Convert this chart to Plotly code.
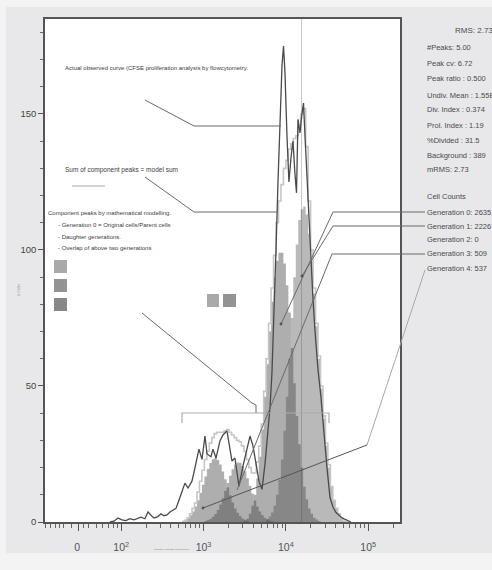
import plotly.graph_objects as go

# ---------------- data ----------------
# modelled histogram channel grid (log10 of CFSE intensity)
model_log_channel = [
    2.74, 2.77, 2.80, 2.83, 2.86, 2.89, 2.92, 2.95, 2.98, 3.01,
    3.04, 3.07, 3.10, 3.13, 3.16, 3.19, 3.22, 3.25, 3.28, 3.31,
    3.34, 3.37, 3.40, 3.43, 3.46, 3.49, 3.52, 3.55, 3.58, 3.61,
    3.64, 3.67, 3.70, 3.73, 3.76, 3.79, 3.82, 3.85, 3.88, 3.91,
    3.94, 3.97, 4.00, 4.03, 4.06, 4.09, 4.12, 4.15, 4.18, 4.21,
    4.24, 4.27, 4.30, 4.33, 4.36, 4.39, 4.42, 4.45, 4.48, 4.51,
    4.54, 4.57, 4.60, 4.63, 4.66, 4.69, 4.72, 4.75,
]

gen4_counts = [
    0.5, 0.9, 1.6, 2.5, 3.9, 5.7, 8.0, 10.7, 13.7, 16.7,
    19.5, 21.7, 23.1, 23.5, 22.8, 21.1, 18.6, 15.7, 12.7, 9.8,
    7.2, 5.0, 3.4, 2.2, 1.3, 0.8, 0.4, 0, 0, 0,
    0, 0, 0, 0, 0, 0, 0, 0, 0, 0,
    0, 0, 0, 0, 0, 0, 0, 0, 0, 0,
    0, 0, 0, 0, 0, 0, 0, 0, 0, 0,
    0, 0, 0, 0, 0, 0, 0, 0,
]
gen3_counts = [
    0, 0, 0, 0, 0, 0, 0, 0, 0, 0.4,
    0.7, 1.1, 1.9, 2.9, 4.4, 6.4, 8.7, 11.4, 14.3, 17.0,
    19.4, 21.1, 21.9, 21.8, 20.6, 18.7, 16.1, 13.3, 10.5, 7.9,
    5.7, 3.9, 2.6, 1.6, 1.0, 0.5, 0.3, 0, 0, 0,
    0, 0, 0, 0, 0, 0, 0, 0, 0, 0,
    0, 0, 0, 0, 0, 0, 0, 0, 0, 0,
    0, 0, 0, 0, 0, 0, 0, 0,
]
gen1_counts = [
    0, 0, 0, 0, 0, 0, 0, 0, 0, 0,
    0, 0, 0, 0, 0, 0, 0, 0, 0, 0,
    0, 0, 0, 0, 0, 0.5, 1.2, 3, 6, 10,
    16, 24, 34, 46, 58, 70, 81, 90, 96, 99,
    99, 95, 87, 77, 64, 51, 39, 28.6, 20, 13,
    8.4, 5, 3, 1.6, 0.9, 0.4, 0, 0, 0, 0,
    0, 0, 0, 0, 0, 0, 0, 0,
]
gen0_counts = [
    0, 0, 0, 0, 0, 0, 0, 0, 0, 0,
    0, 0, 0, 0, 0, 0, 0, 0, 0, 0,
    0, 0, 0, 0, 0, 0, 0, 0, 0, 0,
    0, 0, 0, 0, 1, 2, 3.5, 6, 10, 15.5,
    23, 33.5, 46, 60, 75, 90, 102, 111, 115, 116,
    113, 106, 96, 84, 72, 60, 49, 38, 28, 20,
    13, 8, 5, 3, 1.5, 0.5, 0, 0,
]
model_sum_counts = [
    0, 0.5, 1.5, 3, 5, 7, 11, 15, 19, 23,
    26, 29, 31, 32.5, 33, 33, 33, 33.5, 34, 33,
    32, 31, 30, 29.5, 28, 26, 23, 20, 18, 18,
    22, 28, 36, 48, 60, 73, 86, 98, 110, 118,
    124, 130, 133, 137, 139, 141, 142, 146, 150, 152,
    138, 118, 100, 86, 73, 61, 50, 39, 29, 21,
    13, 8, 5, 3, 1.5, 0.8, 0.3, 0,
]

# observed CFSE histogram (log10 intensity, count)
obs_log_intensity = [
    1.863, 1.912, 1.960, 2.009, 2.057, 2.106, 2.155, 2.203, 2.240, 2.288,
    2.325, 2.361, 2.398, 2.446, 2.483, 2.519, 2.556, 2.592, 2.628, 2.665,
    2.701, 2.738, 2.774, 2.811, 2.859, 2.896, 2.920, 2.944, 2.981, 3.017,
    3.042, 3.090, 3.114, 3.151, 3.199, 3.236, 3.284, 3.308, 3.345, 3.381,
    3.430, 3.479, 3.527, 3.564, 3.600, 3.637, 3.673, 3.710, 3.746, 3.782,
    3.807, 3.831, 3.855, 3.880, 3.904, 3.929, 3.953, 3.971, 3.989, 4.013,
    4.037, 4.062, 4.086, 4.110, 4.129, 4.147, 4.171, 4.195, 4.214, 4.232,
    4.256, 4.281, 4.305, 4.329, 4.354, 4.390, 4.426, 4.463, 4.499, 4.536,
    4.572, 4.609, 4.645, 4.682, 4.718, 4.754, 4.791,
]
obs_counts = [
    0, 0.3, 1.5, 0.8, 0.5, 1.2, 0.8, 1.5, 1.8, 1.2,
    3.7, 2.5, 1.5, 2.0, 3.0, 2.3, 2.6, 3.7, 4.4, 5.0,
    8.0, 11.4, 14.3, 12.5, 15, 20, 23.5, 26.8, 23, 31.6,
    25, 24, 26.8, 23.5, 29.8, 32, 33.5, 28.7, 22.4, 23.5,
    13.2, 20.6, 27.2, 31.6, 28, 21.3, 15, 12, 21.3, 33.5,
    42, 55, 75, 100, 125, 150, 168, 175, 165, 142,
    125, 134, 140, 128, 121, 148, 143, 150, 154, 142,
    127, 108, 95, 82, 70, 56, 46, 32, 20, 9,
    5.5, 3.5, 2.5, 1.5, 1.0, 0.5, 0,
]

undiv_mean = 1.55e4

stats_lines = [
    "#Peaks: 5.00", "Peak cv: 6.72", "Peak ratio : 0.500",
    "Undiv. Mean : 1.55E4", "Div. Index : 0.374", "Prol. Index : 1.19",
    "%Divided : 31.5", "Background : 389", "mRMS: 2.73",
]
generation_names = ["Generation 0", "Generation 1", "Generation 2",
                    "Generation 3", "Generation 4"]
generation_cells = [2635, 2226, 0, 509, 537]

x_major_vals = [30, 100, 1000, 10000, 100000]
x_major_text = ["0<sup> </sup>", "10<sup>2</sup>", "10<sup>3</sup>",
                "10<sup>4</sup>", "10<sup>5</sup>"]
y_tick_vals = [0, 50, 100, 150]

# ---------------- layout geometry ----------------
W, H = 492, 570
PLOT_L, PLOT_R, PLOT_T, PLOT_B = 45, 400, 19, 522
Y_MAX = 184.9
X_RANGE = [1.074, 5.386]

FONT = "Liberation Sans Narrow, Liberation Sans, Arial, sans-serif"


def px(x):
    return (x - PLOT_L) / (PLOT_R - PLOT_L)


def py(y):
    return (PLOT_B - y) / (PLOT_B - PLOT_T)


def polyline(points, color, width=1.0):
    path = "M " + " L ".join(f"{px(a):.5f},{py(b):.5f}" for a, b in points)
    return dict(type="path", path=path, xref="paper", yref="paper",
                line=dict(color=color, width=width), layer="above")


def rect(x0, y0, x1, y1, color, layer="above"):
    return dict(type="rect", xref="paper", yref="paper",
                x0=px(x0), x1=px(x1), y0=py(y1), y1=py(y0),
                fillcolor=color, line=dict(width=0), layer=layer)


def dot(x, y, color="#555555", r=1.4):
    return dict(type="circle", xref="paper", yref="paper",
                x0=px(x - r), x1=px(x + r), y0=py(y + r), y1=py(y - r),
                fillcolor=color, line=dict(width=0), layer="above")


model_intensity = [10 ** v for v in model_log_channel]
obs_intensity = [10 ** v for v in obs_log_intensity]

fig = go.Figure()

# undivided-mean marker line
fig.add_trace(go.Scatter(x=[undiv_mean, undiv_mean], y=[0, Y_MAX], mode="lines",
                         line=dict(color="#c8c8c8", width=1), hoverinfo="skip"))

# component peaks (overlaps darken through transparency)
components = [
    (gen4_counts, "rgba(70,70,70,0.44)"),
    (gen3_counts, "rgba(70,70,70,0.44)"),
    (gen1_counts, "rgba(70,70,70,0.44)"),
    (gen0_counts, "rgba(70,70,70,0.38)"),
]
for counts, fc in components:
    fig.add_trace(go.Scatter(x=model_intensity, y=counts, mode="lines",
                             line=dict(width=0, shape="hv"), fill="tozeroy",
                             fillcolor=fc, hoverinfo="skip"))

# model sum
fig.add_trace(go.Scatter(x=model_intensity, y=model_sum_counts, mode="lines",
                         line=dict(color="#c6c6c6", width=1.6, shape="hv"),
                         hoverinfo="skip"))
# observed curve
fig.add_trace(go.Scatter(x=obs_intensity, y=obs_counts, mode="lines",
                         line=dict(color="#4a4a4a", width=1.3),
                         hoverinfo="skip"))

minor_x = [12, 14, 16, 18, 20, 25, 35, 40, 50, 60, 70, 80, 90] + \
    [m * 10 ** e for e in (2, 3, 4) for m in range(2, 10)] + [200000]

fig.update_xaxes(
    type="log", range=X_RANGE, showgrid=False, zeroline=False,
    showline=True, mirror=True, linecolor="#555555", linewidth=1.5,
    tickmode="array", tickvals=x_major_vals, ticktext=x_major_text,
    ticks="outside", ticklen=7, tickwidth=1, tickcolor="#555555",
    ticklabelstandoff=8,
    tickfont=dict(family=FONT, size=10.5, color="#555555"),
    minor=dict(tickmode="array", tickvals=minor_x, ticks="outside",
               ticklen=4, tickwidth=1, tickcolor="#666666"),
)
fig.update_yaxes(
    range=[0, Y_MAX], showgrid=False, zeroline=False,
    showline=True, mirror=True, linecolor="#555555", linewidth=1.5,
    tickmode="array", tickvals=y_tick_vals,
    ticks="outside", ticklen=5, tickwidth=1, tickcolor="#555555",
    tickfont=dict(family=FONT, size=9.5, color="#444444"),
    minor=dict(dtick=10, ticks="outside", ticklen=3, tickwidth=1,
               tickcolor="#666666"),
)

shapes = [
    # page background panels
    rect(-10, -10, 502, 580, "#f3f3f4", layer="below"),
    rect(6, 7, 502, 553, "#e8e8ea", layer="below"),
    rect(PLOT_L, PLOT_T, PLOT_R, PLOT_B, "#ffffff", layer="below"),
    # legend swatches
    rect(54, 260, 67, 273, "#a9a9a9"),
    rect(54, 279, 67, 292, "#939393"),
    rect(54, 298, 67, 311, "#888888"),
    rect(207, 294, 219, 307, "#a9a9a9"),
    rect(223, 294, 236, 307, "#939393"),
    # model-sum sample line
    polyline([(72, 186), (105, 186)], "#c4c4c4", 1.5),
    # leader lines for the notes on the left
    polyline([(145, 100), (194, 126), (281, 126)], "#6a6a6a"),
    polyline([(145, 177), (194, 212), (278, 212)], "#6a6a6a"),
    polyline([(142, 313), (252, 403), (256, 405), (256, 413)], "#6a6a6a"),
    # modelled range bracket
    polyline([(182, 423), (182, 413), (329, 413), (329, 423)], "#ababab", 1.2),
    # leader lines for the cell counts
    polyline([(425, 212), (333, 212), (281, 324)], "#6a6a6a"),
    polyline([(425, 226), (333, 226), (302, 276)], "#6a6a6a"),
    polyline([(425, 254), (332, 254), (237, 490)], "#6a6a6a"),
    polyline([(425, 270), (367, 445)], "#a8a8a8"),
    polyline([(367, 445), (203, 508)], "#555555"),
    dot(281, 324), dot(302, 276), dot(203, 508),
]

annotations = []


def note(text, x, y, size, color="#3c3c3c", anchor="left", angle=0):
    annotations.append(dict(
        text=text, x=px(x), y=py(y), xref="paper", yref="paper",
        xanchor=anchor, yanchor="middle", showarrow=False, textangle=angle,
        font=dict(family=FONT, size=size, color=color)))


note("Actual observed curve (CFSE proliferation analysis by flowcytometry.", 63, 68, 6)
note("Sum of component peaks = model sum", 63, 170, 6.5)
note("Component peaks by mathematical modelling.", 46, 213, 6)
note("- Generation 0 = Original cells/Parent cells", 56, 225, 6)
note("- Daughter generations.", 56, 236.5, 6)
note("- Overlap of above two generations", 56, 248, 6)

note("RMS: 2.73", 453, 31, 8, "#4a4a4a")
stat_y = [47, 63, 79, 95, 110, 125, 140, 155, 170]
for text, yy in zip(stats_lines, stat_y):
    note(text, 425, yy, 7.5, "#4a4a4a")
note("Cell Counts", 425, 197, 7.5, "#4a4a4a")
gen_y = [212, 226, 240, 254, 268]
for name, cells, yy in zip(generation_names, generation_cells, gen_y):
    note(f"{name}: {cells}", 425, yy, 7.5, "#4a4a4a")

# axis titles
note("Intensity of CFSE Fluorescence", 172, 549, 2.5, "#777777", anchor="center")
note("# Cells", 18, 290, 4, "#888888", anchor="center", angle=-90)

fig.update_layout(
    width=W, height=H,
    margin=dict(l=PLOT_L, r=W - PLOT_R, t=PLOT_T, b=H - PLOT_B),
    paper_bgcolor="#e8e8ea", plot_bgcolor="rgba(0,0,0,0)",
    showlegend=False, shapes=shapes, annotations=annotations,
)

fig.write_html("out.html")
